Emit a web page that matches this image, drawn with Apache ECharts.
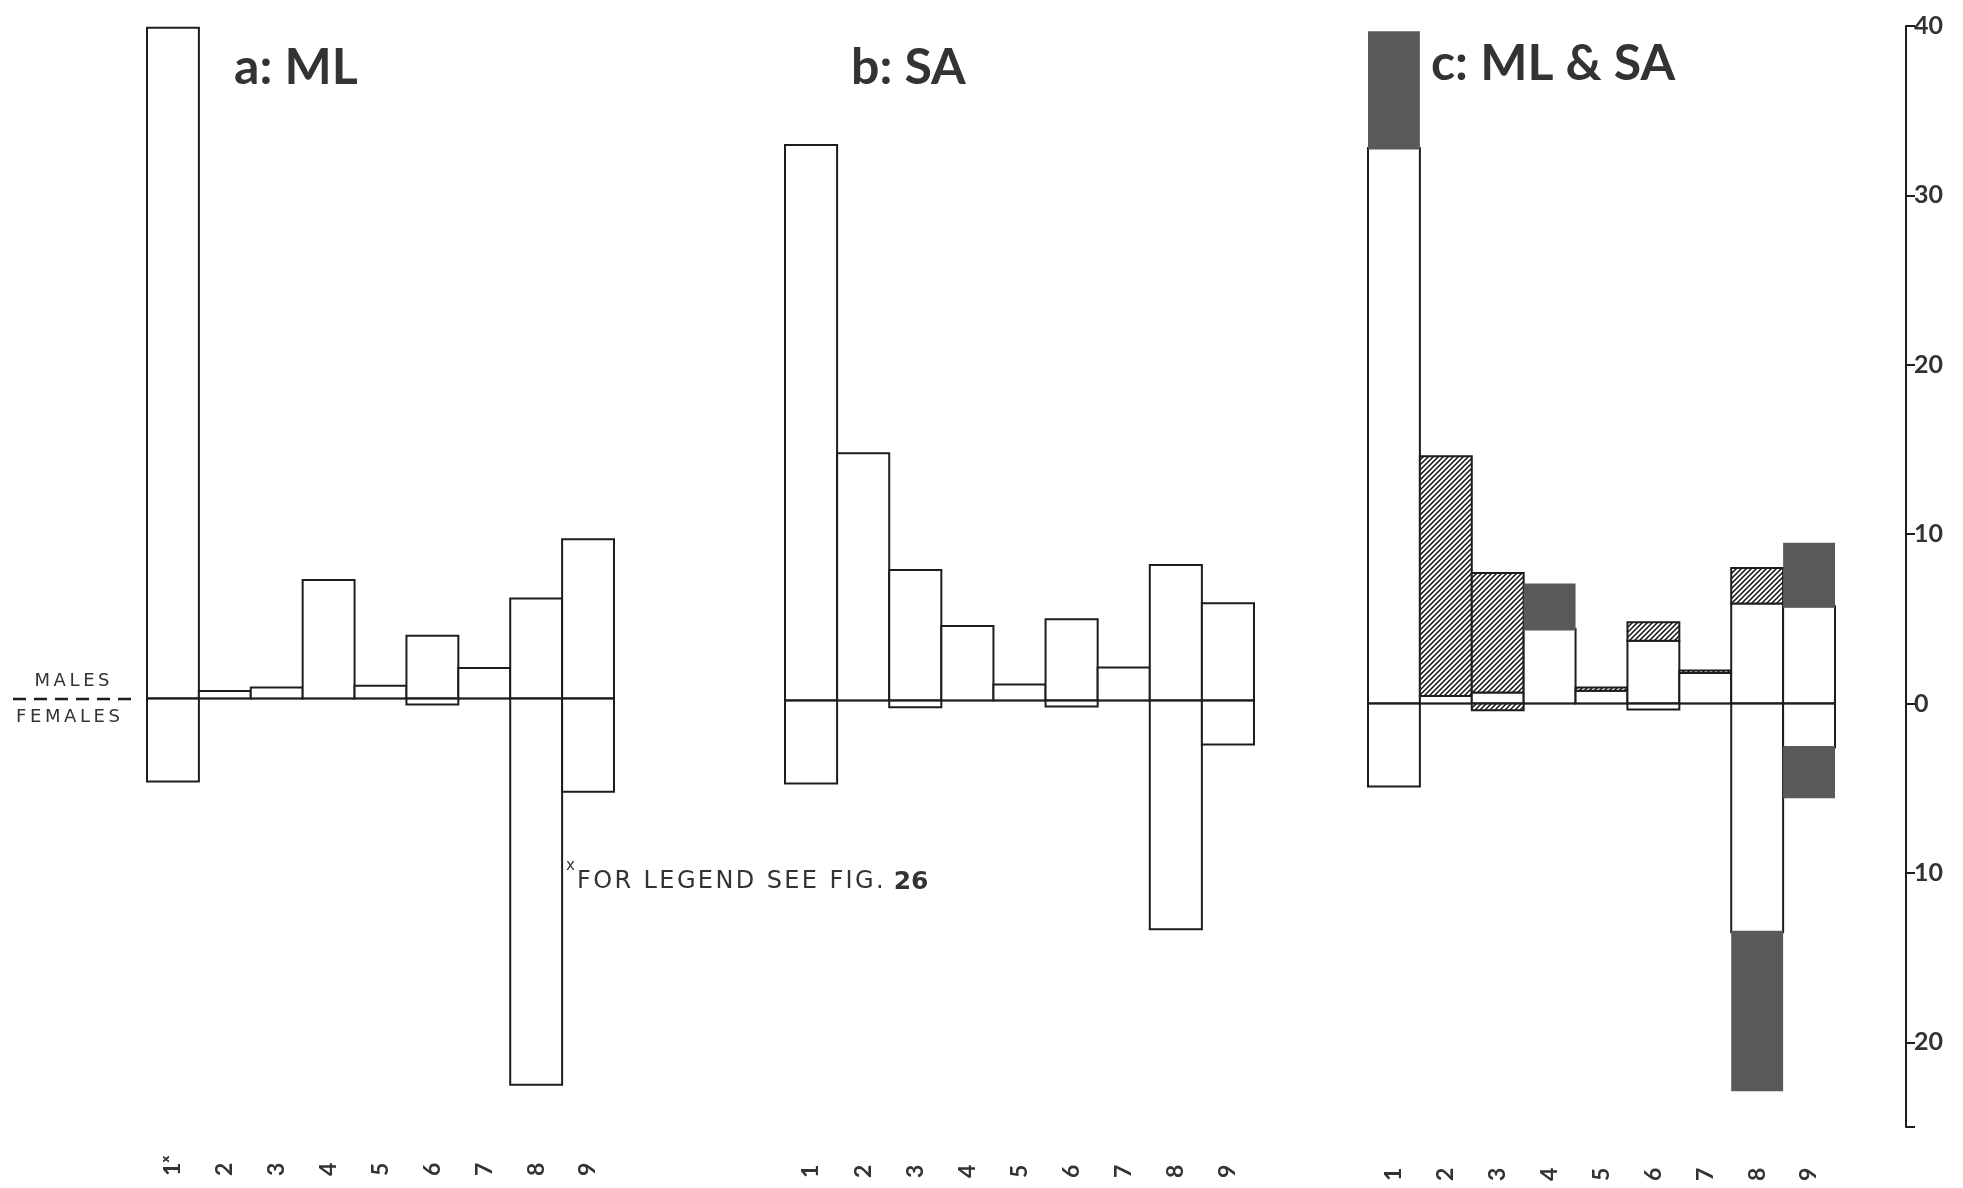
<!DOCTYPE html>
<html>
<head>
<meta charset="utf-8">
<script src="https://cdn.jsdelivr.net/npm/echarts@6/dist/echarts.min.js"></script>
<style>
  html, body { margin: 0; padding: 0; background: #fff; }
  #chart { width: 1963px; height: 1188px; }
</style>
</head>
<body>
<div id="chart"></div>
<script>
// Age classes 1-9, per cent of individuals; males up, females down.
const categories = ['1', '2', '3', '4', '5', '6', '7', '8', '9'];
const categoryLabelsA = ['1\u02E3', '2', '3', '4', '5', '6', '7', '8', '9'];

// a: ML
const mlMales   = [39.6, 0.45, 0.65, 7.0, 0.75, 3.7, 1.8, 5.9, 9.4];
const mlFemales = [-4.9, 0, 0, 0, 0, -0.35, 0, -22.8, -5.5];

// b: SA
const saMales   = [32.8, 14.6, 7.7, 4.4, 0.95, 4.8, 1.95, 8.0, 5.75];
const saFemales = [-4.9, 0, -0.4, 0, 0, -0.35, 0, -13.5, -2.6];

// shared vertical scale
const scaleMin = -25;
const scaleMax = 40;
const scaleTicks = [-25, -20, -10, 0, 10, 20, 30, 40];
const scaleLabels = [-20, -10, 0, 10, 20, 30, 40];

const INK = '#1d1d1d';
const TEXT = '#333333';
const DARK = '#595959';

const PLAIN = 0, HATCHED = 1, SOLID = 2;

function hatchPattern() {
  const s = 5;
  const c = document.createElement('canvas');
  c.width = s; c.height = s;
  const g = c.getContext('2d');
  g.fillStyle = '#fff';
  g.fillRect(0, 0, s, s);
  g.strokeStyle = '#111';
  g.lineWidth = 1.5;
  g.beginPath();
  g.moveTo(-1, s + 1); g.lineTo(s + 1, -1);
  g.moveTo(-s / 2 - 1, s / 2 + 1); g.lineTo(s / 2 + 1, -s / 2 - 1);
  g.moveTo(s / 2 - 1, s * 1.5 + 1); g.lineTo(s * 1.5 + 1, s / 2 - 1);
  g.stroke();
  return c;
}
const HATCH = { image: hatchPattern(), repeat: 'repeat' };

// one block per non-zero value: [class index, from, to, kind]
function blocks(males, females) {
  const out = [];
  males.forEach((v, i) => { if (v !== 0) out.push([i, 0, v, PLAIN]); });
  females.forEach((v, i) => { if (v !== 0) out.push([i, 0, v, PLAIN]); });
  return out;
}

// c: ML & SA — overlap in white, the excess of the larger sample shaded
// (solid = ML larger, hatched = SA larger)
function overlapBlocks(ml, sa, male, out) {
  for (let i = 0; i < ml.length; i++) {
    const common = male ? Math.min(ml[i], sa[i]) : Math.max(ml[i], sa[i]);
    if (common !== 0) out.push([i, 0, common, PLAIN]);
    if (sa[i] !== common) out.push([i, common, sa[i], HATCHED]);
    if (ml[i] !== common) out.push([i, common, ml[i], SOLID]);
  }
  return out;
}
const combined = [];
overlapBlocks(mlMales, saMales, true, combined);
overlapBlocks(mlFemales, saFemales, false, combined);
// solid shading goes on last so it sits over the white outlines
combined.sort((p, q) => (p[3] === SOLID) - (q[3] === SOLID));

const panels = [
  { left: 147, width: 467, top: 21 },
  { left: 785, width: 469, top: 23 },
  { left: 1368, width: 467, top: 26 }
];
const GRID_H = 1101;

const grid = panels.map(p => ({ left: p.left, width: p.width, top: p.top, height: GRID_H }));

const xAxis = panels.map((p, i) => ({
  type: 'category',
  gridIndex: i,
  data: i === 0 ? categoryLabelsA : categories,
  boundaryGap: true,
  axisLine: { show: false },
  axisTick: { show: false },
  axisLabel: {
    rotate: 90,
    align: 'left',
    verticalAlign: 'middle',
    margin: 54,
    color: TEXT,
    fontFamily: 'Lato',
    fontWeight: 'bold',
    fontSize: 23
  }
}));

const yAxis = panels.map((p, i) => ({
  type: 'value',
  gridIndex: i,
  min: scaleMin,
  max: scaleMax,
  interval: 5,
  show: false
}));

// printed scale at the right
yAxis.push({
  type: 'value',
  gridIndex: 2,
  position: 'right',
  offset: 71,
  min: scaleMin,
  max: scaleMax,
  interval: 5,
  splitLine: { show: false },
  axisLine: { show: true, lineStyle: { color: INK, width: 2 } },
  axisTick: {
    show: true,
    inside: false,
    length: 9,
    customValues: scaleTicks,
    lineStyle: { color: INK, width: 2 }
  },
  axisLabel: {
    show: true,
    customValues: scaleLabels,
    margin: 8,
    color: TEXT,
    fontFamily: 'Lato',
    fontWeight: 'bold',
    fontSize: 25,
    formatter: v => String(Math.abs(v))
  }
});

// a block spans its whole class column, from value `from` to value `to`
function renderBlock(params, api) {
  const i = api.value(0);
  const a = api.coord([i, api.value(1)]);
  const b = api.coord([i, api.value(2)]);
  const kind = api.value(3);
  const w = api.size([1, 0])[0];
  const x = a[0] - w / 2;
  const y = Math.min(a[1], b[1]);
  const h = Math.abs(a[1] - b[1]);
  if (kind === SOLID) {
    // slightly taller so it hides the outline of the white block it meets
    return { type: 'rect', shape: { x, y: y - 1.5, width: w, height: h + 3 }, style: { fill: DARK } };
  }
  return {
    type: 'rect',
    shape: { x, y, width: w, height: h },
    style: { fill: kind === HATCHED ? HATCH : '#fff', stroke: INK, lineWidth: 2 }
  };
}

// baseline across the panel at zero
function renderZero(params, api) {
  const cs = params.coordSys;
  const y = api.coord([0, 0])[1];
  return { type: 'line', shape: { x1: cs.x, y1: y, x2: cs.x + cs.width, y2: y }, style: { stroke: INK, lineWidth: 1.6 } };
}

const blockSeries = (name, gi, data) => ({
  name, type: 'custom', xAxisIndex: gi, yAxisIndex: gi,
  data, renderItem: renderBlock, encode: { x: 0, y: [1, 2] }, silent: true
});
const zeroSeries = gi => ({
  name: 'zero ' + gi, type: 'custom', xAxisIndex: gi, yAxisIndex: gi,
  data: [[0, 0]], renderItem: renderZero, encode: { x: 0, y: 1 }, silent: true
});

const series = [
  blockSeries('ML', 0, blocks(mlMales, mlFemales)), zeroSeries(0),
  blockSeries('SA', 1, blocks(saMales, saFemales)), zeroSeries(1),
  blockSeries('ML & SA', 2, combined), zeroSeries(2)
];

// letter-spaced caption text
const spaced = (s, gap) => s.split('').join(gap || '\u2009');

const titleFont = 'bold 50px Lato';
const graphic = [
  { type: 'text', x: 234, y: 68, style: { text: 'a: ML', font: titleFont, fill: TEXT, align: 'left', verticalAlign: 'middle' } },
  { type: 'text', x: 851, y: 68, style: { text: 'b: SA', font: titleFont, fill: TEXT, align: 'left', verticalAlign: 'middle' } },
  { type: 'text', x: 1431, y: 64, style: { text: 'c: ML & SA', font: titleFont, fill: TEXT, align: 'left', verticalAlign: 'middle' } },
  { type: 'text', x: 72, y: 681, style: { text: spaced('MALES'), font: '18px "DejaVu Sans"', fill: TEXT, align: 'center', verticalAlign: 'middle' } },
  { type: 'text', x: 68, y: 717, style: { text: spaced('FEMALES'), font: '18px "DejaVu Sans"', fill: TEXT, align: 'center', verticalAlign: 'middle' } },
  { type: 'line', shape: { x1: 13, y1: 699, x2: 136, y2: 699 }, style: { stroke: INK, lineWidth: 2.5, lineDash: [13, 8] } },
  { type: 'text', x: 566, y: 866, style: { text: 'x', font: '15px "DejaVu Sans"', fill: TEXT, align: 'left', verticalAlign: 'middle' } },
  {
    type: 'text', x: 577, y: 882,
    style: {
      text: '{n|' + spaced('FOR LEGEND SEE FIG. ', '\u200A') + '}{b|26}',
      align: 'left', verticalAlign: 'middle',
      rich: {
        n: { font: '24px "DejaVu Sans"', fill: TEXT },
        b: { font: 'bold 25px "DejaVu Sans"', fill: TEXT }
      }
    }
  }
];

const chart = echarts.init(document.getElementById('chart'), null, { renderer: 'canvas' });
chart.setOption({
  backgroundColor: '#fff',
  animation: false,
  grid,
  xAxis,
  yAxis,
  series,
  graphic
});
</script>
</body>
</html>
